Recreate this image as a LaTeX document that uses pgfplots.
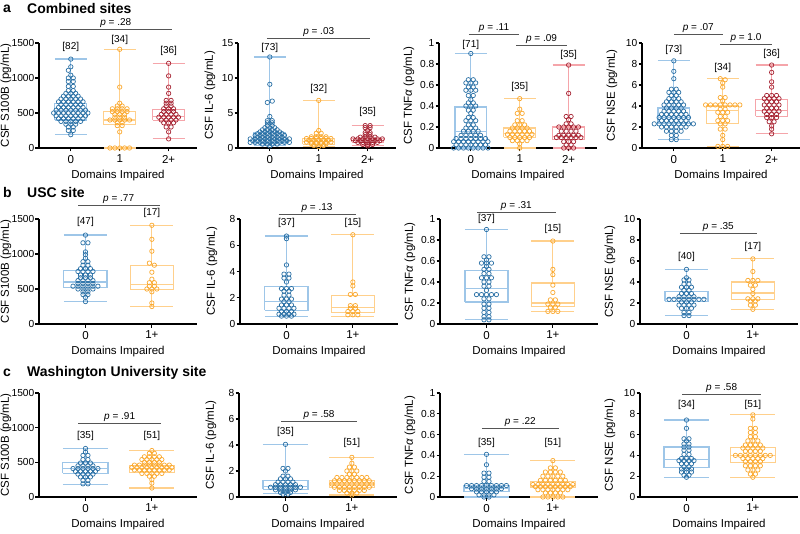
\documentclass[border=0pt]{standalone}
\usepackage{fontspec}
\setmainfont{Liberation Sans}
\usepackage{pgfplots}
\pgfplotsset{compat=1.18}

\definecolor{dblue}{RGB}{42,112,165}
\definecolor{lblue}{RGB}{158,198,232}
\definecolor{dorange}{RGB}{250,168,45}
\definecolor{lorange}{RGB}{255,208,140}
\definecolor{dred}{RGB}{165,35,50}
\definecolor{lred}{RGB}{245,165,170}
\definecolor{pgray}{RGB}{85,85,85}
\newcommand\lbl{\fontsize{11.5}{13}\selectfont}
\newcommand\ytl{\fontsize{10.2}{12}\selectfont}
\newcommand\sml{\fontsize{10}{12}\selectfont}

\tikzset{
  ptxt/.style={font=\sml, inner sep=1.5pt, anchor=south},
  cnt/.style={font=\sml},
}
\pgfplotsset{
  table/header=false, table/row sep=\\,
  panel/.style={scale only axis, width=158pt, height=105pt, anchor=south west,
    axis x line=bottom, axis y line=left,
    axis line style={-, line width=1.3pt},
    tick style={black, line width=1.1pt}, tick align=outside, major tick length=3.5pt,
    ymin=0, clip=false, xlabel={Domains Impaired}, unbounded coords=jump,
    xticklabel style={font=\lbl}, label style={font=\lbl},
    yticklabel style={font=\ytl, inner sep=1pt},
    /pgf/number format/assume math mode=true, /pgf/number format/1000 sep={}},
  ylab/.style={every axis y label/.style={at={([xshift=-#1]axis description cs:0,0.5)}, rotate=90, anchor=center, font=\lbl}},
  three/.style={panel, xmin=-0.65, xmax=2.58, xtick={0,1,2}, xticklabels={0,1,2+}},
  two/.style={panel, xmin=-0.7, xmax=1.68, xtick={0,1}, xticklabels={0,1+}},
  bx/.style={#1, line width=1.2pt, mark=none},
  pts/.style={only marks, mark=o, mark size=2.2pt, mark options={#1, line width=0.7pt}},
  pline/.style={pgray, line width=0.9pt, mark=none},
}

\begin{document}
\begin{tikzpicture}
\path[use as bounding box] (0,0) rectangle (800pt,-534pt);

% ---------------- row a ----------------
\begin{axis}[three, ylab=33pt, at={(39pt,-148pt)}, ymax=1500, ytick={0,500,1000,1500}, ylabel={CSF S100B (pg/mL)}]
\addplot[bx=lblue] coordinates {(-0.325,400)(0.325,400)(0.325,640)(-0.325,640)(-0.325,400)(0,nan)(-0.325,530)(0.325,530)(0,nan)(0,640)(0,1270)(0,nan)(-0.325,1270)(0.325,1270)(0,nan)(0,400)(0,190)(0,nan)(-0.325,190)(0.325,190)};
\addplot[bx=lorange] coordinates {(0.675,330)(1.325,330)(1.325,525)(0.675,525)(0.675,330)(1,nan)(0.675,400)(1.325,400)(1,nan)(1,525)(1,1410)(1,nan)(0.675,1410)(1.325,1410)(1,nan)(1,330)(1,0)(1,nan)(0.675,0)(1.325,0)};
\addplot[bx=lred] coordinates {(1.675,395)(2.325,395)(2.325,555)(1.675,555)(1.675,395)(2,nan)(1.675,455)(2.325,455)(2,nan)(2,555)(2,1210)(2,nan)(1.675,1210)(2.325,1210)(2,nan)(2,395)(2,130)(2,nan)(1.675,130)(2.325,130)};
\addplot[pts=dblue] table[x expr=0.1*\thisrowno{0}, y index=1] {
0 1270\\ 0 1160\\ -0.5 1110\\ 0 1040\\ -0.5 1000\\ 0.5 1000\\ -0.5 950\\ 0.5 950\\ -0.5 880\\ 0.5 880\\ -0.5 820\\ 0.5 820\\
-1 780\\ 0 780\\ 1 780\\ -1.5 740\\ -0.5 740\\ 0.5 740\\ 1.5 740\\
-2 700\\ -1 700\\ 0 700\\ 1 700\\ 2 700\\
-2.5 660\\ -1.5 660\\ -0.5 660\\ 0.5 660\\ 1.5 660\\ 2.5 660\\
-2 620\\ -1 620\\ 0 620\\ 1 620\\ 2 620\\
-2.5 580\\ -1.5 580\\ -0.5 580\\ 0.5 580\\ 1.5 580\\ 2.5 580\\
-3 540\\ -2 540\\ -1 540\\ 0 540\\ 1 540\\ 2 540\\ 3 540\\
-3.5 500\\ -2.5 500\\ -1.5 500\\ -0.5 500\\ 0.5 500\\ 1.5 500\\ 2.5 500\\ 3.5 500\\
-3 460\\ -2 460\\ -1 460\\ 0 460\\ 1 460\\ 2 460\\ 3 460\\
-2.5 420\\ -1.5 420\\ -0.5 420\\ 0.5 420\\ 1.5 420\\ 2.5 420\\
-2 380\\ -1 380\\ 0 380\\ 1 380\\ 2 380\\
-1 340\\ 0 340\\ 1 340\\ -0.5 300\\ 0.5 300\\ -0.5 250\\ 0.5 250\\ 0 190\\
};
\addplot[pts=dorange] table[x expr=0.1*\thisrowno{0}+1, y index=1] {
0 1410\\ 0 870\\ 0 640\\ -0.5 600\\ 0.5 600\\
-1.5 560\\ -0.5 560\\ 0.5 560\\ 1.5 560\\ -1.5 520\\ -0.5 520\\ 0.5 520\\ 1.5 520\\
-1 480\\ 0 480\\ 1 480\\ -1 440\\ 0 440\\ 1 440\\
-2 400\\ -1 400\\ 0 400\\ 1 400\\ 2 400\\
-0.5 360\\ 0.5 360\\ -0.5 320\\ 0.5 320\\ 0 230\\
-2 0\\ -1 0\\ 0 0\\ 1 0\\ 2 0\\
};
\addplot[pts=dred] table[x expr=0.1*\thisrowno{0}+2, y index=1] {
0 1210\\ 0 1030\\ 0 870\\ 0 780\\ -0.5 680\\ 0.5 680\\ -0.5 640\\ 0.5 640\\ -0.5 600\\ 0.5 600\\
-1 560\\ 0 560\\ 1 560\\ -1 520\\ 0 520\\ 1 520\\
-1.5 480\\ -0.5 480\\ 0.5 480\\ 1.5 480\\
-2 440\\ -1 440\\ 0 440\\ 1 440\\ 2 440\\
-1.5 400\\ -0.5 400\\ 0.5 400\\ 1.5 400\\
-1 360\\ 0 360\\ 1 360\\ -0.5 300\\ 0.5 300\\ 0 230\\ 0 130\\
};
\addplot[pline] coordinates {(-0.22,1700)(2.06,1700)};
\node[ptxt] at (axis cs:0.92,1700) {\textit{p} = .28};
\node[cnt] at (axis cs:0,1443) {[82]};
\node[cnt] at (axis cs:1,1543) {[34]};
\node[cnt] at (axis cs:2,1386) {[36]};
\end{axis}

\begin{axis}[three, ylab=28pt, at={(238pt,-148pt)}, ymax=15, ytick={0,5,10,15}, ylabel={CSF IL-6 (pg/mL)}]
\addplot[bx=lblue] coordinates {(-0.325,0.7)(0.325,0.7)(0.325,2.2)(-0.325,2.2)(-0.325,0.7)(0,nan)(-0.325,1.2)(0.325,1.2)(0,nan)(0,2.2)(0,13)(0,nan)(-0.325,13)(0.325,13)(0,nan)(0,0.7)(0,0.3)(0,nan)(-0.325,0.3)(0.325,0.3)};
\addplot[bx=lorange] coordinates {(0.675,0.55)(1.325,0.55)(1.325,1.35)(0.675,1.35)(0.675,0.55)(1,nan)(0.675,0.9)(1.325,0.9)(1,nan)(1,1.35)(1,6.8)(1,nan)(0.675,6.8)(1.325,6.8)(1,nan)(1,0.55)(1,0.2)(1,nan)(0.675,0.2)(1.325,0.2)};
\addplot[bx=lred] coordinates {(1.675,0.8)(2.325,0.8)(2.325,1.4)(1.675,1.4)(1.675,0.8)(2,nan)(1.675,1.1)(2.325,1.1)(2,nan)(2,1.4)(2,3.2)(2,nan)(1.675,3.2)(2.325,3.2)(2,nan)(2,0.8)(2,0.3)(2,nan)(1.675,0.3)(2.325,0.3)};
\addplot[pts=dblue] table[x expr=0.1*\thisrowno{0}, y index=1] {
0 13\\ 0 9.1\\ 0.5 6.7\\ -0.5 6.5\\ 0 4.5\\
-0.5 3.9\\ 0.5 3.9\\ -0.5 3.6\\ 0.5 3.6\\ -0.5 3.2\\ 0.5 3.2\\
-1 2.9\\ 0 2.9\\ 1 2.9\\ -1.5 2.6\\ -0.5 2.6\\ 0.5 2.6\\ 1.5 2.6\\
-2 2.3\\ -1 2.3\\ 0 2.3\\ 1 2.3\\ 2 2.3\\
-2.5 2.05\\ -1.5 2.05\\ -0.5 2.05\\ 0.5 2.05\\ 1.5 2.05\\ 2.5 2.05\\
-3 1.8\\ -2 1.8\\ -1 1.8\\ 0 1.8\\ 1 1.8\\ 2 1.8\\ 3 1.8\\
-2.5 1.55\\ -1.5 1.55\\ -0.5 1.55\\ 0.5 1.55\\ 1.5 1.55\\ 2.5 1.55\\
-4 1.3\\ -3 1.3\\ -2 1.3\\ -1 1.3\\ 0 1.3\\ 1 1.3\\ 2 1.3\\ 3 1.3\\ 4 1.3\\
-3.5 1.05\\ -2.5 1.05\\ -1.5 1.05\\ -0.5 1.05\\ 0.5 1.05\\ 1.5 1.05\\ 2.5 1.05\\ 3.5 1.05\\
-4 0.8\\ -3 0.8\\ -2 0.8\\ -1 0.8\\ 0 0.8\\ 1 0.8\\ 2 0.8\\ 3 0.8\\ 4 0.8\\
-1.5 0.55\\ -0.5 0.55\\ 0.5 0.55\\ 1.5 0.55\\ 0 0.3\\
};
\addplot[pts=dorange] table[x expr=0.1*\thisrowno{0}+1, y index=1] {
0 6.8\\ 0 2.5\\ -0.5 2.1\\ 0.5 2.1\\
-1.5 1.6\\ -0.5 1.6\\ 0.5 1.6\\ 1.5 1.6\\
-2.5 1.35\\ -1.5 1.35\\ -0.5 1.35\\ 0.5 1.35\\ 1.5 1.35\\ 2.5 1.35\\
-2 1.1\\ -1 1.1\\ 0 1.1\\ 1 1.1\\ 2 1.1\\
-2.5 0.85\\ -1.5 0.85\\ -0.5 0.85\\ 0.5 0.85\\ 1.5 0.85\\ 2.5 0.85\\
-1.5 0.6\\ -0.5 0.6\\ 0.5 0.6\\ 1.5 0.6\\ -1 0.35\\ 0 0.2\\ 1 0.35\\
};
\addplot[pts=dred] table[x expr=0.1*\thisrowno{0}+2, y index=1] {
-0.5 3.2\\ 0.5 3.2\\ -0.5 2.9\\ 0.5 2.9\\ 0 2.5\\ -0.5 2.2\\ 0.5 2.2\\ -0.5 1.9\\ 0.5 1.9\\
-1.5 1.55\\ -0.5 1.55\\ 0.5 1.55\\ 1.5 1.55\\
-3 1.3\\ -2 1.3\\ -1 1.3\\ 0 1.3\\ 1 1.3\\ 2 1.3\\ 3 1.3\\
-2.5 1.05\\ -1.5 1.05\\ -0.5 1.05\\ 0.5 1.05\\ 1.5 1.05\\ 2.5 1.05\\
-2 0.8\\ -1 0.8\\ 0 0.8\\ 1 0.8\\ 2 0.8\\ -1 0.5\\ 0 0.5\\ 1 0.5\\ 0 0.3\\
};
\addplot[pline] coordinates {(-0.06,15.7)(2.05,15.7)};
\node[ptxt] at (axis cs:1,15.7) {\textit{p} = .03};
\node[cnt] at (axis cs:0,14.3) {[73]};
\node[cnt] at (axis cs:1,8.4) {[32]};
\node[cnt] at (axis cs:2,5.1) {[35]};
\end{axis}

\begin{axis}[three, ylab=30pt, at={(439pt,-148pt)}, ymax=1, ytick={0,0.2,0.4,0.6,0.8,1}, ylabel={CSF TNF\textit{α} (pg/mL)}]
\addplot[bx=lblue] coordinates {(-0.325,0.07)(0.325,0.07)(0.325,0.39)(-0.325,0.39)(-0.325,0.07)(0,nan)(-0.325,0.16)(0.325,0.16)(0,nan)(0,0.39)(0,0.9)(0,nan)(-0.325,0.9)(0.325,0.9)(0,nan)(0,0.07)(0,0)(0,nan)(-0.325,0)(0.325,0)};
\addplot[bx=lorange] coordinates {(0.675,0.1)(1.325,0.1)(1.325,0.19)(0.675,0.19)(0.675,0.1)(1,nan)(0.675,0.14)(1.325,0.14)(1,nan)(1,0.19)(1,0.47)(1,nan)(0.675,0.47)(1.325,0.47)(1,nan)(1,0.1)(1,0)(1,nan)(0.675,0)(1.325,0)};
\addplot[bx=lred] coordinates {(1.675,0.08)(2.325,0.08)(2.325,0.2)(1.675,0.2)(1.675,0.08)(2,nan)(1.675,0.11)(2.325,0.11)(2,nan)(2,0.2)(2,0.79)(2,nan)(1.675,0.79)(2.325,0.79)(2,nan)(2,0.08)(2,0)(2,nan)(1.675,0)(2.325,0)};
\addplot[pts=dblue] table[x expr=0.1*\thisrowno{0}, y index=1] {
0 0.9\\ -0.5 0.65\\ 0.5 0.65\\ -1 0.62\\ 0 0.62\\ 1 0.62\\ -0.5 0.58\\ 0.5 0.58\\
-1 0.55\\ 0 0.55\\ 1 0.55\\ -0.5 0.5\\ 0.5 0.5\\ 0 0.46\\ -0.5 0.43\\ 0.5 0.43\\
-1 0.4\\ 0 0.4\\ 1 0.4\\ -0.5 0.36\\ 0.5 0.36\\ 0 0.33\\ -0.5 0.29\\ 0.5 0.29\\
-1 0.26\\ 0 0.26\\ 1 0.26\\ -0.5 0.22\\ 0.5 0.22\\ -1 0.19\\ 0 0.19\\ 1 0.19\\
-1.5 0.16\\ -0.5 0.16\\ 0.5 0.16\\ 1.5 0.16\\
-2 0.12\\ -1 0.12\\ 0 0.12\\ 1 0.12\\ 2 0.12\\
-3 0.09\\ -2 0.09\\ -1 0.09\\ 0 0.09\\ 1 0.09\\ 2 0.09\\ 3 0.09\\
-3.5 0.06\\ -2.5 0.06\\ -1.5 0.06\\ -0.5 0.06\\ 0.5 0.06\\ 1.5 0.06\\ 2.5 0.06\\ 3.5 0.06\\
-3 0.03\\ -2 0.03\\ -1 0.03\\ 0 0.03\\ 1 0.03\\ 2 0.03\\ 3 0.03\\
-3.5 0\\ -2.5 0\\ -1.5 0\\ -0.5 0\\ 0.5 0\\ 1.5 0\\ 2.5 0\\ 3.5 0\\
};
\addplot[pts=dorange] table[x expr=0.1*\thisrowno{0}+1, y index=1] {
0 0.47\\ 0 0.37\\ -0.5 0.33\\ 0.5 0.33\\ -0.5 0.26\\ 0.5 0.26\\
-1 0.22\\ 0 0.22\\ 1 0.22\\ -1.5 0.19\\ -0.5 0.19\\ 0.5 0.19\\ 1.5 0.19\\
-2 0.16\\ -1 0.16\\ 0 0.16\\ 1 0.16\\ 2 0.16\\
-2.5 0.13\\ -1.5 0.13\\ -0.5 0.13\\ 0.5 0.13\\ 1.5 0.13\\ 2.5 0.13\\
-2 0.1\\ -1 0.1\\ 0 0.1\\ 1 0.1\\ 2 0.1\\
-1.5 0.07\\ -0.5 0.07\\ 0.5 0.07\\ 1.5 0.07\\ 0 0.04\\ 0 0\\
};
\addplot[pts=dred] table[x expr=0.1*\thisrowno{0}+2, y index=1] {
0 0.79\\ 0 0.52\\ -0.5 0.3\\ 0.5 0.3\\ 0 0.27\\ -0.5 0.23\\ 0.5 0.23\\
-2 0.2\\ -1 0.2\\ 0 0.2\\ 1 0.2\\ 2 0.2\\
-1.5 0.16\\ -0.5 0.16\\ 0.5 0.16\\ 1.5 0.16\\
-2 0.12\\ -1 0.12\\ 0 0.12\\ 1 0.12\\ 2 0.12\\
-2.5 0.1\\ -1.5 0.1\\ -0.5 0.1\\ 0.5 0.1\\ 1.5 0.1\\ 2.5 0.1\\
-1 0.06\\ 0 0.06\\ 1 0.06\\ -0.5 0.03\\ 0.5 0.03\\ -1 0\\ 0 0\\ 1 0\\
};
\addplot[pline] coordinates {(-0.04,1.086)(0.99,1.086)};
\node[ptxt] at (axis cs:0.475,1.086) {\textit{p} = .11};
\addplot[pline] coordinates {(0.93,0.98)(1.96,0.98)};
\node[ptxt] at (axis cs:1.445,0.98) {\textit{p} = .09};
\node[cnt] at (axis cs:0,0.98) {[71]};
\node[cnt] at (axis cs:1,0.58) {[35]};
\node[cnt] at (axis cs:2,0.886) {[35]};
\end{axis}

\begin{axis}[three, ylab=30pt, at={(642pt,-148pt)}, ymax=10, ytick={0,2,4,6,8,10}, ylabel={CSF NSE (pg/mL)}]
\addplot[bx=lblue] coordinates {(-0.325,2.3)(0.325,2.3)(0.325,3.8)(-0.325,3.8)(-0.325,2.3)(0,nan)(-0.325,2.9)(0.325,2.9)(0,nan)(0,3.8)(0,8.3)(0,nan)(-0.325,8.3)(0.325,8.3)(0,nan)(0,2.3)(0,0.8)(0,nan)(-0.325,0.8)(0.325,0.8)};
\addplot[bx=lorange] coordinates {(0.675,2.3)(1.325,2.3)(1.325,4.0)(0.675,4.0)(0.675,2.3)(1,nan)(0.675,3.6)(1.325,3.6)(1,nan)(1,4.0)(1,6.6)(1,nan)(0.675,6.6)(1.325,6.6)(1,nan)(1,2.3)(1,0.15)(1,nan)(0.675,0.15)(1.325,0.15)};
\addplot[bx=lred] coordinates {(1.675,3.0)(2.325,3.0)(2.325,4.6)(1.675,4.6)(1.675,3.0)(2,nan)(1.675,3.6)(2.325,3.6)(2,nan)(2,4.6)(2,7.9)(2,nan)(1.675,7.9)(2.325,7.9)(2,nan)(2,3.0)(2,1.35)(2,nan)(1.675,1.35)(2.325,1.35)};
\addplot[pts=dblue] table[x expr=0.1*\thisrowno{0}, y index=1] {
0 8.3\\ 0 7.3\\ 0 6.6\\ -0.5 5.6\\ 0.5 5.6\\ -1 5.3\\ 0 5.3\\ 1 5.3\\ -0.5 5\\ 0.5 5\\
-1 4.7\\ 0 4.7\\ 1 4.7\\ -1.5 4.4\\ -0.5 4.4\\ 0.5 4.4\\ 1.5 4.4\\
-2 4.1\\ -1 4.1\\ 0 4.1\\ 1 4.1\\ 2 4.1\\
-1.5 3.8\\ -0.5 3.8\\ 0.5 3.8\\ 1.5 3.8\\
-2 3.5\\ -1 3.5\\ 0 3.5\\ 1 3.5\\ 2 3.5\\
-2.5 3.2\\ -1.5 3.2\\ -0.5 3.2\\ 0.5 3.2\\ 1.5 3.2\\ 2.5 3.2\\
-3 2.9\\ -2 2.9\\ -1 2.9\\ 0 2.9\\ 1 2.9\\ 2 2.9\\ 3 2.9\\
-2.5 2.6\\ -1.5 2.6\\ -0.5 2.6\\ 0.5 2.6\\ 1.5 2.6\\ 2.5 2.6\\
-4 2.3\\ -3 2.3\\ -2 2.3\\ -1 2.3\\ 0 2.3\\ 1 2.3\\ 2 2.3\\ 3 2.3\\ 4 2.3\\
-2.5 2\\ -1.5 2\\ -0.5 2\\ 0.5 2\\ 1.5 2\\ 2.5 2\\
-1.5 1.6\\ -0.5 1.6\\ 0.5 1.6\\ 1.5 1.6\\ -0.5 1.2\\ 0.5 1.2\\ -0.5 0.8\\ 0.5 0.8\\
};
\addplot[pts=dorange] table[x expr=0.1*\thisrowno{0}+1, y index=1] {
-0.5 6.6\\ 0.5 6.5\\ 0 6.2\\ 0 5.8\\ -0.5 4.8\\ 0.5 4.8\\ 0 4.5\\
-3.5 4.1\\ -2.5 4.1\\ -1.5 4.1\\ -0.5 4.1\\ 0.5 4.1\\ 1.5 4.1\\ 2.5 4.1\\ 3.5 4.1\\
-0.5 3.7\\ 0.5 3.7\\ -1 3.4\\ 0 3.4\\ 1 3.4\\ -0.5 3\\ 0.5 3\\
-1 2.6\\ 0 2.6\\ 1 2.6\\ -0.5 2.3\\ 0.5 2.3\\ -0.5 1.8\\ 0.5 1.8\\
0 1.2\\ 0 0.8\\ -1 0.15\\ 0 0.15\\ 1 0.15\\
};
\addplot[pts=dred] table[x expr=0.1*\thisrowno{0}+2, y index=1] {
0 7.9\\ 0 7.2\\ 0 6.3\\ 0 5.8\\ -1 5\\ 0 5\\ 1 5\\
-1.5 4.7\\ -0.5 4.7\\ 0.5 4.7\\ 1.5 4.7\\ -1 4.4\\ 0 4.4\\ 1 4.4\\
-1.5 4.1\\ -0.5 4.1\\ 0.5 4.1\\ 1.5 4.1\\ -1 3.8\\ 0 3.8\\ 1 3.8\\
-1.5 3.5\\ -0.5 3.5\\ 0.5 3.5\\ 1.5 3.5\\ -1 3.2\\ 0 3.2\\ 1 3.2\\
-1 2.9\\ 0 2.9\\ 1 2.9\\ -0.5 2.5\\ 0.5 2.5\\ 0 2.1\\ 0 1.8\\ 0 1.35\\
};
\addplot[pline] coordinates {(0,10.86)(1,10.86)};
\node[ptxt] at (axis cs:0.5,10.86) {\textit{p} = .07};
\addplot[pline] coordinates {(0.95,9.9)(2,9.9)};
\node[ptxt] at (axis cs:1.475,9.9) {\textit{p} = 1.0};
\node[cnt] at (axis cs:0,9.33) {[73]};
\node[cnt] at (axis cs:1,7.6) {[34]};
\node[cnt] at (axis cs:2,9.0) {[36]};
\end{axis}

% ---------------- row b ----------------
\begin{axis}[two, ylab=33pt, at={(39pt,-324pt)}, ymax=1500, ytick={0,500,1000,1500}, ylabel={CSF S100B (pg/mL)}]
\addplot[bx=lblue] coordinates {(-0.325,520)(0.325,520)(0.325,760)(-0.325,760)(-0.325,520)(0,nan)(-0.325,600)(0.325,600)(0,nan)(0,760)(0,1270)(0,nan)(-0.325,1270)(0.325,1270)(0,nan)(0,520)(0,320)(0,nan)(-0.325,320)(0.325,320)};
\addplot[bx=lorange] coordinates {(0.675,490)(1.325,490)(1.325,840)(0.675,840)(0.675,490)(1,nan)(0.675,560)(1.325,560)(1,nan)(1,840)(1,1410)(1,nan)(0.675,1410)(1.325,1410)(1,nan)(1,490)(1,250)(1,nan)(0.675,250)(1.325,250)};
\addplot[pts=dblue] table[x expr=0.075*\thisrowno{0}, y index=1] {
0 1270\\ -0.5 1160\\ 0.5 1160\\ 0 1030\\ 0 990\\ 0 940\\
-0.5 890\\ 0.5 890\\ -0.5 840\\ 0.5 840\\ -1 790\\ 0 790\\ 1 790\\
-1.5 750\\ -0.5 750\\ 0.5 750\\ 1.5 750\\ -1 700\\ 0 700\\ 1 700\\ -1 660\\ 0 660\\ 1 660\\
-1.5 620\\ -0.5 620\\ 0.5 620\\ 1.5 620\\ -1.5 580\\ -0.5 580\\ 0.5 580\\ 1.5 580\\
-2.5 540\\ -1.5 540\\ -0.5 540\\ 0.5 540\\ 1.5 540\\ 2.5 540\\
-1.5 500\\ -0.5 500\\ 0.5 500\\ 1.5 500\\
-0.5 460\\ 0.5 460\\ -0.5 420\\ 0.5 420\\ 0 380\\ 0 320\\
};
\addplot[pts=dorange] table[x expr=0.075*\thisrowno{0}+1, y index=1] {
0 1410\\ 0 1210\\ 0 1040\\ -0.5 870\\ 0.5 840\\ 0 740\\ 0 640\\
-0.5 590\\ 0.5 590\\ -0.5 540\\ 0.5 540\\ -1 500\\ 0 500\\ 1 500\\
0 460\\ 0 300\\ 0 250\\
};
\addplot[pline] coordinates {(-0.11,1700)(1.12,1700)};
\node[ptxt] at (axis cs:0.5,1700) {\textit{p} = .77};
\node[cnt] at (axis cs:0,1457) {[47]};
\node[cnt] at (axis cs:1,1586) {[17]};
\end{axis}

\begin{axis}[two, ylab=28pt, at={(240pt,-324pt)}, ymax=8, ytick={0,2,4,6,8}, ylabel={CSF IL-6 (pg/mL)}]
\addplot[bx=lblue] coordinates {(-0.325,1.05)(0.325,1.05)(0.325,2.85)(-0.325,2.85)(-0.325,1.05)(0,nan)(-0.325,1.7)(0.325,1.7)(0,nan)(0,2.85)(0,6.7)(0,nan)(-0.325,6.7)(0.325,6.7)(0,nan)(0,1.05)(0,0.55)(0,nan)(-0.325,0.55)(0.325,0.55)};
\addplot[bx=lorange] coordinates {(0.675,0.85)(1.325,0.85)(1.325,2.2)(0.675,2.2)(0.675,0.85)(1,nan)(0.675,1.25)(1.325,1.25)(1,nan)(1,2.2)(1,6.8)(1,nan)(0.675,6.8)(1.325,6.8)(1,nan)(1,0.85)(1,0.6)(1,nan)(0.675,0.6)(1.325,0.6)};
\addplot[pts=dblue] table[x expr=0.075*\thisrowno{0}, y index=1] {
0 6.7\\ 0 6.5\\ 0 4.5\\ -0.5 3.8\\ 0.5 3.8\\ -0.5 3.5\\ 0.5 3.5\\ 0 3.2\\
-1 2.7\\ 0 2.7\\ 1 2.7\\ -0.5 2.5\\ 0.5 2.5\\ -0.5 2.2\\ 0.5 2.2\\
-1 1.9\\ 0 1.9\\ 1 1.9\\ -0.5 1.7\\ 0.5 1.7\\ -1 1.45\\ 0 1.45\\ 1 1.45\\
-1.5 1.2\\ -0.5 1.2\\ 0.5 1.2\\ 1.5 1.2\\ -1 0.95\\ 0 0.95\\ 1 0.95\\
-1.5 0.75\\ -0.5 0.75\\ 0.5 0.75\\ 1.5 0.75\\ -1 0.6\\ 0 0.6\\ 1 0.6\\
};
\addplot[pts=dorange] table[x expr=0.075*\thisrowno{0}+1, y index=1] {
0 6.8\\ 0 3.2\\ 0 2.9\\ -0.5 2.25\\ 0.5 2.25\\ -0.5 1.4\\ 0.5 1.4\\ -0.5 1.2\\ 0.5 1.2\\
-1 0.95\\ 0 0.95\\ 1 0.95\\ -1 0.7\\ 0 0.7\\ 1 0.7\\
};
\addplot[pline] coordinates {(-0.12,8.38)(1.04,8.38)};
\node[ptxt] at (axis cs:0.46,8.38) {\textit{p} = .13};
\node[cnt] at (axis cs:0,7.7) {[37]};
\node[cnt] at (axis cs:1,7.7) {[15]};
\end{axis}

\begin{axis}[two, ylab=30pt, at={(440pt,-324pt)}, ymax=1, ytick={0,0.2,0.4,0.6,0.8,1}, ylabel={CSF TNF\textit{α} (pg/mL)}]
\addplot[bx=lblue] coordinates {(-0.325,0.21)(0.325,0.21)(0.325,0.51)(-0.325,0.51)(-0.325,0.21)(0,nan)(-0.325,0.34)(0.325,0.34)(0,nan)(0,0.51)(0,0.9)(0,nan)(-0.325,0.9)(0.325,0.9)(0,nan)(0,0.21)(0,0.04)(0,nan)(-0.325,0.04)(0.325,0.04)};
\addplot[bx=lorange] coordinates {(0.675,0.17)(1.325,0.17)(1.325,0.39)(0.675,0.39)(0.675,0.17)(1,nan)(0.675,0.2)(1.325,0.2)(1,nan)(1,0.39)(1,0.79)(1,nan)(0.675,0.79)(1.325,0.79)(1,nan)(1,0.17)(1,0.12)(1,nan)(0.675,0.12)(1.325,0.12)};
\addplot[pts=dblue] table[x expr=0.075*\thisrowno{0}, y index=1] {
0 0.9\\ -0.5 0.64\\ 0.5 0.64\\ 0 0.61\\ -1 0.58\\ 0 0.58\\ 1 0.58\\ 0 0.55\\
-0.5 0.52\\ 0.5 0.52\\ -0.5 0.48\\ 0.5 0.48\\ -1 0.44\\ 0 0.44\\ 1 0.44\\
-0.5 0.4\\ 0.5 0.4\\ -0.5 0.36\\ 0.5 0.36\\ 0 0.32\\
-2 0.28\\ -1 0.28\\ 0 0.28\\ 1 0.28\\ 2 0.28\\
-0.5 0.24\\ 0.5 0.24\\ -0.5 0.19\\ 0.5 0.19\\ -0.5 0.15\\ 0.5 0.15\\
-0.5 0.11\\ 0.5 0.11\\ -0.5 0.07\\ 0.5 0.07\\ -0.5 0.04\\ 0.5 0.04\\
};
\addplot[pts=dorange] table[x expr=0.075*\thisrowno{0}+1, y index=1] {
0 0.79\\ 0 0.52\\ 0 0.47\\ 0 0.37\\ 0 0.3\\ -0.5 0.23\\ 0.5 0.23\\
-1 0.19\\ 0 0.19\\ 1 0.19\\ -0.5 0.16\\ 0.5 0.16\\ -1 0.12\\ 0 0.12\\ 1 0.12\\
};
\addplot[pline] coordinates {(-0.14,1.067)(1.04,1.067)};
\node[ptxt] at (axis cs:0.45,1.067) {\textit{p} = .31};
\node[cnt] at (axis cs:0,1.0) {[37]};
\node[cnt] at (axis cs:1,0.91) {[15]};
\end{axis}

\begin{axis}[two, ylab=30pt, at={(640pt,-324pt)}, ymax=10, ytick={0,2,4,6,8,10}, ylabel={CSF NSE (pg/mL)}]
\addplot[bx=lblue] coordinates {(-0.325,2.15)(0.325,2.15)(0.325,3.1)(-0.325,3.1)(-0.325,2.15)(0,nan)(-0.325,2.4)(0.325,2.4)(0,nan)(0,3.1)(0,5.2)(0,nan)(-0.325,5.2)(0.325,5.2)(0,nan)(0,2.15)(0,0.8)(0,nan)(-0.325,0.8)(0.325,0.8)};
\addplot[bx=lorange] coordinates {(0.675,2.3)(1.325,2.3)(1.325,4.0)(0.675,4.0)(0.675,2.3)(1,nan)(0.675,2.95)(1.325,2.95)(1,nan)(1,4.0)(1,6.2)(1,nan)(0.675,6.2)(1.325,6.2)(1,nan)(1,2.3)(1,1.4)(1,nan)(0.675,1.4)(1.325,1.4)};
\addplot[pts=dblue] table[x expr=0.075*\thisrowno{0}, y index=1] {
0 5.2\\ 0 4.4\\ -0.5 4.2\\ 0.5 4.2\\ -0.5 3.8\\ 0.5 3.8\\
-1 3.5\\ 0 3.5\\ 1 3.5\\ -0.5 3.2\\ 0.5 3.2\\ -1 2.9\\ 0 2.9\\ 1 2.9\\
-1.5 2.6\\ -0.5 2.6\\ 0.5 2.6\\ 1.5 2.6\\
-3.5 2.35\\ -2.5 2.35\\ -1.5 2.35\\ -0.5 2.35\\ 0.5 2.35\\ 1.5 2.35\\ 2.5 2.35\\ 3.5 2.35\\
-1 2.1\\ 0 2.1\\ 1 2.1\\ -1.5 1.8\\ -0.5 1.8\\ 0.5 1.8\\ 1.5 1.8\\
-1 1.5\\ 0 1.5\\ 1 1.5\\ -0.5 1.1\\ 0.5 1.1\\ -0.5 0.8\\ 0.5 0.8\\
};
\addplot[pts=dorange] table[x expr=0.075*\thisrowno{0}+1, y index=1] {
0 6.2\\ 0 5\\ -1 4.15\\ 0 4.15\\ 1 4.15\\ -0.5 3.7\\ 0.5 3.7\\ 0 3.3\\ 0 2.9\\
-1 2.4\\ 0 2.4\\ 1 2.4\\ -0.5 2.2\\ 0.5 2.2\\ -0.5 1.8\\ 0.5 1.8\\ 0 1.4\\
};
\addplot[pline] coordinates {(-0.1,8.67)(1.06,8.67)};
\node[ptxt] at (axis cs:0.48,8.67) {\textit{p} = .35};
\node[cnt] at (axis cs:0,6.4) {[40]};
\node[cnt] at (axis cs:1,7.3) {[17]};
\end{axis}

% ---------------- row c ----------------
\begin{axis}[two, ylab=33pt, at={(39pt,-497pt)}, height=104pt, ymax=1500, ytick={0,500,1000,1500}, ylabel={CSF S100B (pg/mL)}]
\addplot[bx=lblue] coordinates {(-0.34,340)(0.34,340)(0.34,500)(-0.34,500)(-0.34,340)(0,nan)(-0.34,410)(0.34,410)(0,nan)(0,500)(0,700)(0,nan)(-0.34,700)(0.34,700)(0,nan)(0,340)(0,180)(0,nan)(-0.34,180)(0.34,180)};
\addplot[bx=lorange] coordinates {(0.66,350)(1.34,350)(1.34,460)(0.66,460)(0.66,350)(1,nan)(0.66,410)(1.34,410)(1,nan)(1,460)(1,670)(1,nan)(0.66,670)(1.34,670)(1,nan)(1,350)(1,130)(1,nan)(0.66,130)(1.34,130)};
\addplot[pts=dblue] table[x expr=0.075*\thisrowno{0}, y index=1] {
0 700\\ 0 650\\ -0.5 600\\ 0.5 600\\ -0.5 540\\ 0.5 540\\ -1 490\\ 0 490\\ 1 490\\
-1.5 450\\ -0.5 450\\ 0.5 450\\ 1.5 450\\
-2.5 410\\ -1.5 410\\ -0.5 410\\ 0.5 410\\ 1.5 410\\ 2.5 410\\
-2 370\\ -1 370\\ 0 370\\ 1 370\\ 2 370\\
-1.5 330\\ -0.5 330\\ 0.5 330\\ 1.5 330\\ -1 290\\ 0 290\\ 1 290\\
-0.5 240\\ 0.5 240\\ -0.5 190\\ 0.5 190\\
};
\addplot[pts=dorange] table[x expr=0.075*\thisrowno{0}+1, y index=1] {
0 670\\ -0.5 630\\ 0.5 630\\ -1.5 580\\ -0.5 580\\ 0.5 580\\ 1.5 580\\
-2 540\\ -1 540\\ 0 540\\ 1 540\\ 2 540\\ -1.5 500\\ -0.5 500\\ 0.5 500\\ 1.5 500\\
-3.5 460\\ -2.5 460\\ -1.5 460\\ -0.5 460\\ 0.5 460\\ 1.5 460\\ 2.5 460\\ 3.5 460\\
-4 425\\ -3 425\\ -2 425\\ -1 425\\ 0 425\\ 1 425\\ 2 425\\ 3 425\\ 4 425\\
-3.5 390\\ -2.5 390\\ -1.5 390\\ -0.5 390\\ 0.5 390\\ 1.5 390\\ 2.5 390\\ 3.5 390\\
-2 340\\ -1 340\\ 0 340\\ 1 340\\ 2 340\\ -0.5 300\\ 0.5 300\\ 0 250\\ 0 200\\ 0 130\\
};
\addplot[pline] coordinates {(-0.11,1067)(1.14,1067)};
\node[ptxt] at (axis cs:0.515,1067) {\textit{p} = .91};
\node[cnt] at (axis cs:0,880) {[35]};
\node[cnt] at (axis cs:1,880) {[51]};
\end{axis}

\begin{axis}[two, ylab=28pt, at={(239pt,-497pt)}, height=104pt, ymax=8, ytick={0,2,4,6,8}, ylabel={CSF IL-6 (pg/mL)}]
\addplot[bx=lblue] coordinates {(-0.34,0.6)(0.34,0.6)(0.34,1.25)(-0.34,1.25)(-0.34,0.6)(0,nan)(-0.34,0.8)(0.34,0.8)(0,nan)(0,1.25)(0,4.05)(0,nan)(-0.34,4.05)(0.34,4.05)(0,nan)(0,0.6)(0,0.25)(0,nan)(-0.34,0.25)(0.34,0.25)};
\addplot[bx=lorange] coordinates {(0.66,0.75)(1.34,0.75)(1.34,1.3)(0.66,1.3)(0.66,0.75)(1,nan)(0.66,1.0)(1.34,1.0)(1,nan)(1,1.3)(1,3.05)(1,nan)(0.66,3.05)(1.34,3.05)(1,nan)(1,0.75)(1,0.15)(1,nan)(0.66,0.15)(1.34,0.15)};
\addplot[pts=dblue] table[x expr=0.075*\thisrowno{0}, y index=1] {
0 4.05\\ -0.5 2.2\\ 0.5 2.2\\ 0 2\\ -0.5 1.6\\ 0.5 1.6\\ -1 1.4\\ 0 1.4\\ 1 1.4\\
-1.5 1.15\\ -0.5 1.15\\ 0.5 1.15\\ 1.5 1.15\\
-2 0.95\\ -1 0.95\\ 0 0.95\\ 1 0.95\\ 2 0.95\\
-3 0.75\\ -2 0.75\\ -1 0.75\\ 0 0.75\\ 1 0.75\\ 2 0.75\\ 3 0.75\\
-2 0.55\\ -1 0.55\\ 0 0.55\\ 1 0.55\\ 2 0.55\\
-1 0.35\\ 0 0.35\\ 1 0.35\\ -0.5 0.22\\ 0.5 0.22\\
};
\addplot[pts=dorange] table[x expr=0.075*\thisrowno{0}+1, y index=1] {
0 3.05\\ 0 2.6\\ -0.5 2.3\\ 0.5 2.3\\ -1 2\\ 0 2\\ 1 2\\ -0.5 1.75\\ 0.5 1.75\\
-3 1.5\\ -2 1.5\\ -1 1.5\\ 0 1.5\\ 1 1.5\\ 2 1.5\\ 3 1.5\\
-3.5 1.25\\ -2.5 1.25\\ -1.5 1.25\\ -0.5 1.25\\ 0.5 1.25\\ 1.5 1.25\\ 2.5 1.25\\ 3.5 1.25\\
-4 1\\ -3 1\\ -2 1\\ -1 1\\ 0 1\\ 1 1\\ 2 1\\ 3 1\\ 4 1\\
-3.5 0.75\\ -2.5 0.75\\ -1.5 0.75\\ -0.5 0.75\\ 0.5 0.75\\ 1.5 0.75\\ 2.5 0.75\\ 3.5 0.75\\
-2.5 0.5\\ -1.5 0.5\\ -0.5 0.5\\ 0.5 0.5\\ 1.5 0.5\\ 2.5 0.5\\
-1 0.3\\ 0 0.3\\ 1 0.3\\ 0 0.15\\
};
\addplot[pline] coordinates {(-0.06,5.85)(1.07,5.85)};
\node[ptxt] at (axis cs:0.505,5.85) {\textit{p} = .58};
\node[cnt] at (axis cs:0,5.0) {[35]};
\node[cnt] at (axis cs:1,4.15) {[51]};
\end{axis}

\begin{axis}[two, ylab=30pt, at={(440pt,-497pt)}, height=104pt, ymax=1, ytick={0,0.2,0.4,0.6,0.8,1}, ylabel={CSF TNF\textit{α} (pg/mL)}]
\addplot[bx=lblue] coordinates {(-0.34,0.05)(0.34,0.05)(0.34,0.11)(-0.34,0.11)(-0.34,0.05)(0,nan)(-0.34,0.08)(0.34,0.08)(0,nan)(0,0.11)(0,0.41)(0,nan)(-0.34,0.41)(0.34,0.41)(0,nan)(0,0.05)(0,0)(0,nan)(-0.34,0)(0.34,0)};
\addplot[bx=lorange] coordinates {(0.66,0.09)(1.34,0.09)(1.34,0.15)(0.66,0.15)(0.66,0.09)(1,nan)(0.66,0.11)(1.34,0.11)(1,nan)(1,0.15)(1,0.35)(1,nan)(0.66,0.35)(1.34,0.35)(1,nan)(1,0.09)(1,0)(1,nan)(0.66,0)(1.34,0)};
\addplot[pts=dblue] table[x expr=0.075*\thisrowno{0}, y index=1] {
0 0.41\\ 0 0.31\\ -0.5 0.23\\ 0.5 0.23\\ -0.5 0.19\\ 0.5 0.19\\ -0.5 0.15\\ 0.5 0.15\\
-4 0.11\\ -3 0.11\\ -2 0.11\\ -1 0.11\\ 0 0.11\\ 1 0.11\\ 2 0.11\\ 3 0.11\\ 4 0.11\\
-3 0.08\\ -2 0.08\\ -1 0.08\\ 0 0.08\\ 1 0.08\\ 2 0.08\\ 3 0.08\\
-2 0.05\\ -1 0.05\\ 0 0.05\\ 1 0.05\\ 2 0.05\\
-1.5 0.02\\ -0.5 0.02\\ 0.5 0.02\\ 1.5 0.02\\ -0.5 0\\ 0.5 0\\
};
\addplot[pts=dorange] table[x expr=0.075*\thisrowno{0}+1, y index=1] {
0 0.35\\ -0.5 0.28\\ 0.5 0.28\\ -1.5 0.24\\ -0.5 0.24\\ 0.5 0.24\\ 1.5 0.24\\
-2 0.2\\ -1 0.2\\ 0 0.2\\ 1 0.2\\ 2 0.2\\
-2.5 0.16\\ -1.5 0.16\\ -0.5 0.16\\ 0.5 0.16\\ 1.5 0.16\\ 2.5 0.16\\
-4 0.12\\ -3 0.12\\ -2 0.12\\ -1 0.12\\ 0 0.12\\ 1 0.12\\ 2 0.12\\ 3 0.12\\ 4 0.12\\
-3.5 0.1\\ -2.5 0.1\\ -1.5 0.1\\ -0.5 0.1\\ 0.5 0.1\\ 1.5 0.1\\ 2.5 0.1\\ 3.5 0.1\\
-3 0.07\\ -2 0.07\\ -1 0.07\\ 0 0.07\\ 1 0.07\\ 2 0.07\\ 3 0.07\\
-1.5 0.04\\ -0.5 0.04\\ 0.5 0.04\\ 1.5 0.04\\
-2 0\\ -1 0\\ 0 0\\ 1 0\\ 2 0\\
};
\addplot[pline] coordinates {(-0.07,0.66)(1.09,0.66)};
\node[ptxt] at (axis cs:0.51,0.66) {\textit{p} = .22};
\node[cnt] at (axis cs:0,0.52) {[35]};
\node[cnt] at (axis cs:1,0.52) {[51]};
\end{axis}

\begin{axis}[two, ylab=30pt, at={(640pt,-497pt)}, height=104pt, ymax=10, ytick={0,2,4,6,8,10}, ylabel={CSF NSE (pg/mL)}]
\addplot[bx=lblue] coordinates {(-0.34,2.8)(0.34,2.8)(0.34,4.8)(-0.34,4.8)(-0.34,2.8)(0,nan)(-0.34,3.6)(0.34,3.6)(0,nan)(0,4.8)(0,7.4)(0,nan)(-0.34,7.4)(0.34,7.4)(0,nan)(0,2.8)(0,1.9)(0,nan)(-0.34,1.9)(0.34,1.9)};
\addplot[bx=lorange] coordinates {(0.66,3.3)(1.34,3.3)(1.34,4.75)(0.66,4.75)(0.66,3.3)(1,nan)(0.66,4.0)(1.34,4.0)(1,nan)(1,4.75)(1,7.9)(1,nan)(0.66,7.9)(1.34,7.9)(1,nan)(1,3.3)(1,1.9)(1,nan)(0.66,1.9)(1.34,1.9)};
\addplot[pts=dblue] table[x expr=0.075*\thisrowno{0}, y index=1] {
0 7.4\\ 0 6.6\\ -0.5 5.6\\ 0.5 5.6\\ 0 5.4\\ -0.5 5.1\\ 0.5 5.1\\ -0.5 4.8\\ 0.5 4.8\\ -0.5 4.5\\ 0.5 4.5\\ -0.5 4.1\\ 0.5 4.1\\
-1 3.7\\ 0 3.7\\ 1 3.7\\ -1.5 3.5\\ -0.5 3.5\\ 0.5 3.5\\ 1.5 3.5\\ -1 3.2\\ 0 3.2\\ 1 3.2\\
-0.5 2.9\\ 0.5 2.9\\ -1 2.7\\ 0 2.7\\ 1 2.7\\ -1 2.4\\ 0 2.4\\ 1 2.4\\ -0.5 2.1\\ 0.5 2.1\\ 0 1.9\\
};
\addplot[pts=dorange] table[x expr=0.075*\thisrowno{0}+1, y index=1] {
0 7.9\\ 0 7.5\\ -0.5 6.6\\ 0.5 6.6\\ -0.5 6.2\\ 0.5 6.2\\ -0.5 5.8\\ 0.5 5.8\\
-1 5.4\\ 0 5.4\\ 1 5.4\\ -1.5 5\\ -0.5 5\\ 0.5 5\\ 1.5 5\\
-2 4.7\\ -1 4.7\\ 0 4.7\\ 1 4.7\\ 2 4.7\\ -1.5 4.4\\ -0.5 4.4\\ 0.5 4.4\\ 1.5 4.4\\
-3.5 4\\ -2.5 4\\ -1.5 4\\ -0.5 4\\ 0.5 4\\ 1.5 4\\ 2.5 4\\ 3.5 4\\
-2 3.7\\ -1 3.7\\ 0 3.7\\ 1 3.7\\ 2 3.7\\ -1.5 3.4\\ -0.5 3.4\\ 0.5 3.4\\ 1.5 3.4\\
-1.5 3\\ -0.5 3\\ 0.5 3\\ 1.5 3\\ -1 2.6\\ 0 2.6\\ 1 2.6\\ -0.5 2.2\\ 0.5 2.2\\ 0 1.9\\
};
\addplot[pline] coordinates {(-0.06,9.9)(1.12,9.9)};
\node[ptxt] at (axis cs:0.53,9.9) {\textit{p} = .58};
\node[cnt] at (axis cs:0,8.85) {[34]};
\node[cnt] at (axis cs:1,8.85) {[51]};
\end{axis}

% panel titles
\node[anchor=west, inner sep=0, font=\bfseries\fontsize{14}{16}\selectfont] at (3pt,-9pt) {a};
\node[anchor=west, inner sep=0, font=\bfseries\fontsize{14}{16}\selectfont] at (27pt,-9pt) {Combined sites};
\node[anchor=west, inner sep=0, font=\bfseries\fontsize{14}{16}\selectfont] at (3pt,-192pt) {b};
\node[anchor=west, inner sep=0, font=\bfseries\fontsize{14}{16}\selectfont] at (27pt,-192pt) {USC site};
\node[anchor=west, inner sep=0, font=\bfseries\fontsize{14}{16}\selectfont] at (3pt,-373pt) {c};
\node[anchor=west, inner sep=0, font=\bfseries\fontsize{14}{16}\selectfont] at (27pt,-373pt) {Washington University site};
\end{tikzpicture}
\end{document}
